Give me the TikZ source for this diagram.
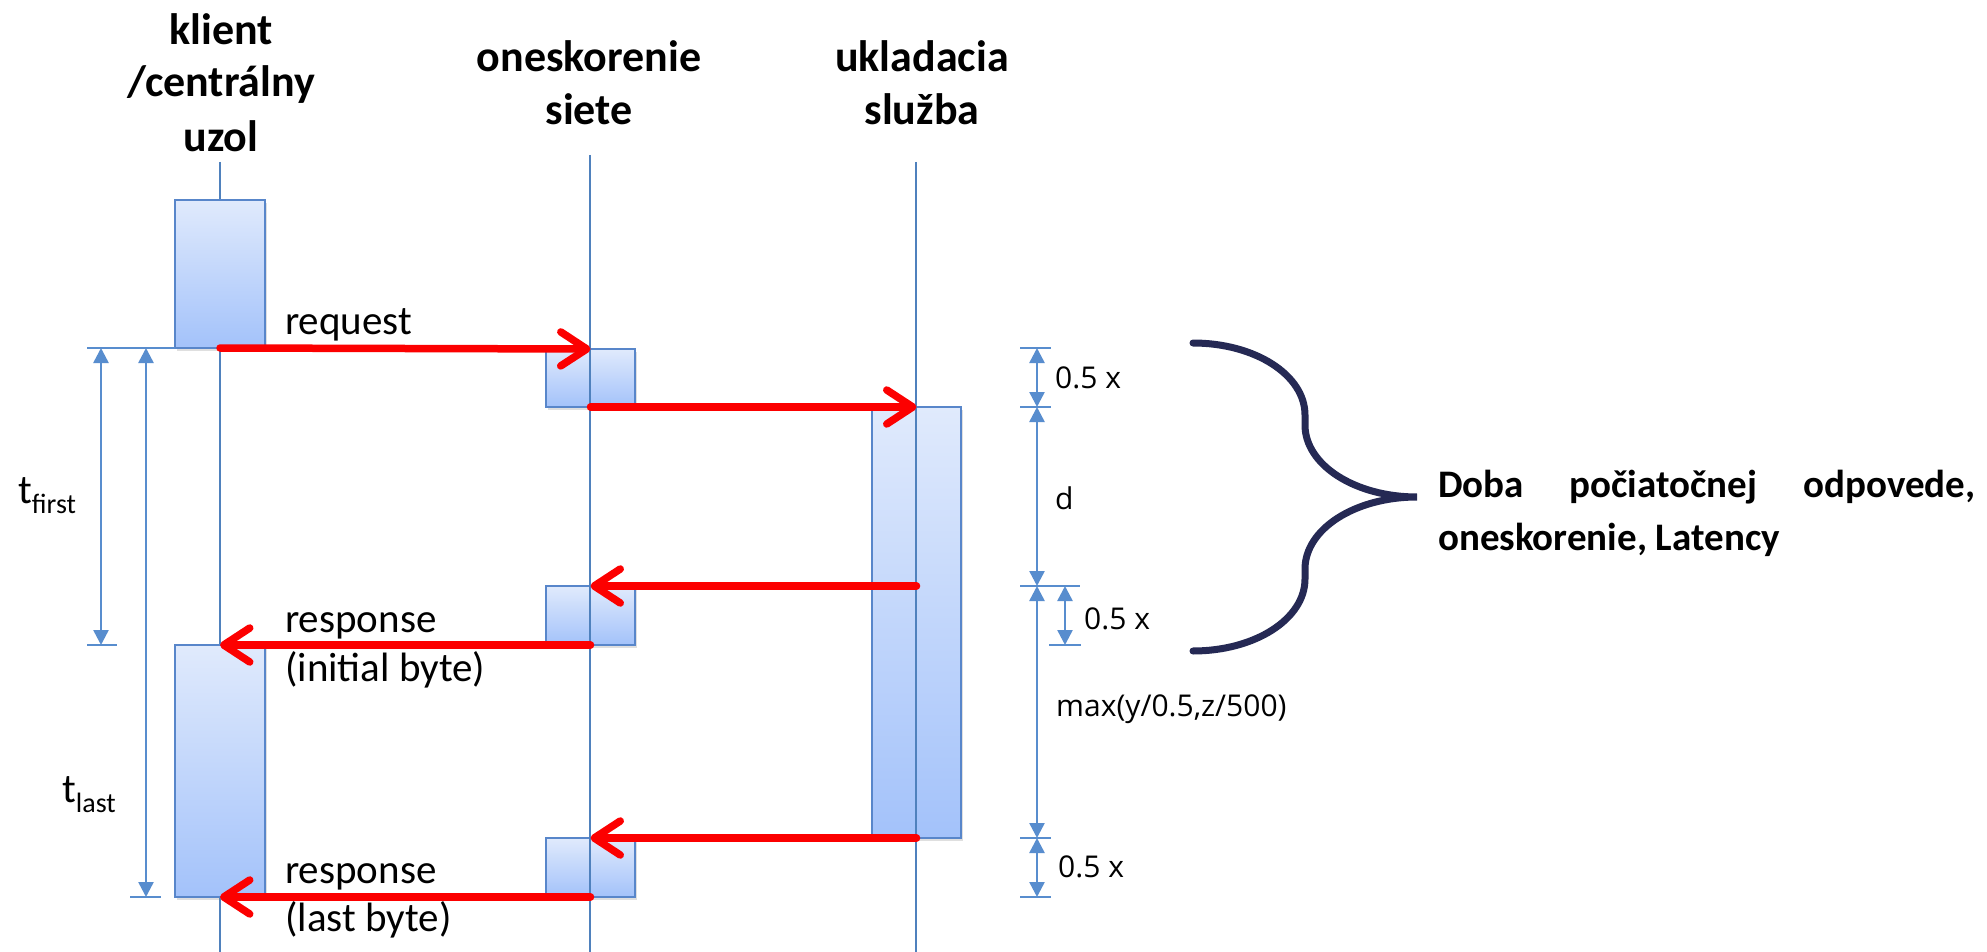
\documentclass[tikz,border=0pt]{standalone}
\usepackage{fontspec}
\setmainfont{Carlito}
\newfontfamily\dimfont{Open Sans}
\usetikzlibrary{arrows.meta,shadows}
\definecolor{lifeblue}{RGB}{79,129,189}
\definecolor{boxborder}{RGB}{88,134,202}
\definecolor{boxtop}{RGB}{224,234,252}
\definecolor{boxbot}{RGB}{163,194,250}
\definecolor{dimblue}{RGB}{88,141,206}
\definecolor{arrred}{RGB}{252,0,0}
\definecolor{bracenavy}{RGB}{37,41,84}
\begin{document}
\begin{tikzpicture}[x=1pt,y=-1pt,
  lifeline/.style={draw=lifeblue,line width=2pt},
  actbox/.style={draw=boxborder,line width=2pt,top color=boxtop,bottom color=boxbot,
     inner sep=0pt,outer sep=0pt,minimum width=89pt,
     drop shadow={opacity=0.25,shadow xshift=2pt,shadow yshift=-3pt}},
  msg/.style={draw=arrred,line width=7.5pt,line cap=round,
     -{Straight Barb[length=26pt,width=34pt,round]}},
  dimarr/.style={draw=dimblue,line width=2.5pt,
     {Triangle[length=15pt,width=15pt]}-{Triangle[length=15pt,width=15pt]}},
  tick/.style={draw=dimblue,line width=2.5pt},
  title/.style={inner sep=0pt,anchor=base,font=\bfseries\fontsize{44}{53}\selectfont},
  lbl/.style={inner sep=0pt,anchor=base west,font=\fontsize{41}{49}\selectfont},
  dimlbl/.style={inner sep=0pt,anchor=base west,font=\dimfont\fontsize{30}{36}\selectfont},
  rtext/.style={inner sep=0pt,anchor=base west,font=\bfseries\fontsize{39}{53}\selectfont},
  brace/.style={draw=bracenavy,line width=7pt}]
\fill[white] (0,0) rectangle (1987,952);
\useasboundingbox (0,0) rectangle (1987,952);

% lifeline end points
\coordinate (cTop) at (220,162);  \coordinate (cBot) at (220,952);
\coordinate (nTop) at (590,155);  \coordinate (nBot) at (590,952);
\coordinate (sTop) at (916,162);  \coordinate (sBot) at (916,952);

% titles
\node[title] (t1a) at (221,45) {klient};
\node[title] (t1b) at (221,97) {/centrálny};
\node[title] (t1c) at (221,152) {uzol};
\node[title] (t2a) at (589,72) {oneskorenie};
\node[title] (t2b) at (589,125) {siete};
\node[title] (t3a) at (922,72) {ukladacia};
\node[title] (t3b) at (922,125) {služba};

% client lifeline (behind its boxes)
\draw[lifeline] (cTop) -- (cBot);

% activation boxes
\node[actbox,minimum width=90pt,minimum height=148pt] (c1) at (220,274) {};
\node[actbox,minimum width=90pt,minimum height=252pt] (c2) at (220,771) {};
\node[actbox,minimum height=58pt] (n1) at (590.5,378) {};
\node[actbox,minimum height=59pt] (n2) at (590.5,615.5) {};
\node[actbox,minimum height=59pt] (n3) at (590.5,867.5) {};
\node[actbox,minimum height=431pt] (s1) at (916.5,622.5) {};

% network and storage lifelines (over their boxes)
\draw[lifeline] (nTop) -- (nBot);
\draw[lifeline] (sTop) -- (sBot);

% messages
\coordinate (r1) at (916.5,586);
\draw[msg] (c1.south) -- (n1.north);
\draw[msg] (n1.south) -- (s1.north);
\draw[msg] (r1) -- (n2.north);
\draw[msg] (n2.south) -- (c2.north);
\draw[msg] (s1.south) -- (n3.north);
\draw[msg] (n3.south) -- (c2.south);

% message labels
\node[lbl] (lreq) at (285,334) {request};
\node[lbl] (lresp1) at (285,632) {response};
\node[lbl] (lresp1b) at (285,681) {(initial byte)};
\node[lbl] (lresp2) at (285,883) {response};
\node[lbl] (lresp2b) at (285,931) {(last byte)};

% left dimensions
\coordinate (xa) at (87,348);
\coordinate (xf1) at (87,645);  \coordinate (xf2) at (117,645);
\coordinate (xl1) at (130,897); \coordinate (xl2) at (161,897);
\draw[tick] (xa) -- (c1.south west);
\draw[tick] (xf1) -- (xf2);
\draw[tick] (xl1) -- (xl2);
\coordinate (tfA) at (101,348); \coordinate (tfB) at (101,645);
\coordinate (tlA) at (146,348); \coordinate (tlB) at (146,897);
\draw[dimarr] (tfA) -- (tfB);
\draw[dimarr] (tlA) -- (tlB);
\node[lbl] (ltf) at (18,503) {t\raisebox{-10pt}{\fontsize{28}{28}\selectfont first}};
\node[lbl] (ltl) at (62,802) {t\raisebox{-10pt}{\fontsize{28}{28}\selectfont last}};

% right dimensions
\coordinate (dA) at (1037,348);
\coordinate (dB) at (1037,407);
\coordinate (dC) at (1037,586);
\coordinate (dD) at (1037,838);
\coordinate (dE) at (1037,897);
\coordinate (eC) at (1065,586);
\coordinate (eF) at (1065,645);
\foreach \y/\a/\b in {348/1020/1051,407/1020/1051,586/1020/1080,645/1049/1081,838/1020/1051,897/1020/1051}
  {\draw[tick] (\a,\y) -- (\b,\y);}
\draw[dimarr] (dA) -- (dB);
\draw[dimarr] (dB) -- (dC);
\draw[dimarr] (dC) -- (dD);
\draw[dimarr] (dD) -- (dE);
\draw[dimarr] (eC) -- (eF);
\node[dimlbl] (l05a) at (1055,388) {0.5 x};
\node[dimlbl] (ld) at (1055,509) {d};
\node[dimlbl] (l05b) at (1084,629) {0.5 x};
\node[dimlbl] (lmax) at (1056,716) {max(y/0.5,z/500)};
\node[dimlbl] (l05c) at (1058,877) {0.5 x};

% brace
\coordinate (brTop) at (1193,343);
\coordinate (brTip) at (1417,497);
\coordinate (brBot) at (1193,651);
\draw[brace,line cap=round] (brTop) .. controls (1255,343) and (1305,375) .. (1305,415)
   -- (1305,425) .. controls (1305,465) and (1355,497) .. (brTip)
   .. controls (1355,497) and (1305,529) .. (1305,569)
   -- (1305,579) .. controls (1305,619) and (1255,651) .. (brBot);

% right text
\node[rtext] (lat1) at (1438,497) {\makebox[537pt][s]{Doba počiatočnej odpovede,}};
\node[rtext] (lat2) at (1438,550) {oneskorenie, Latency};
\end{tikzpicture}
\end{document}
